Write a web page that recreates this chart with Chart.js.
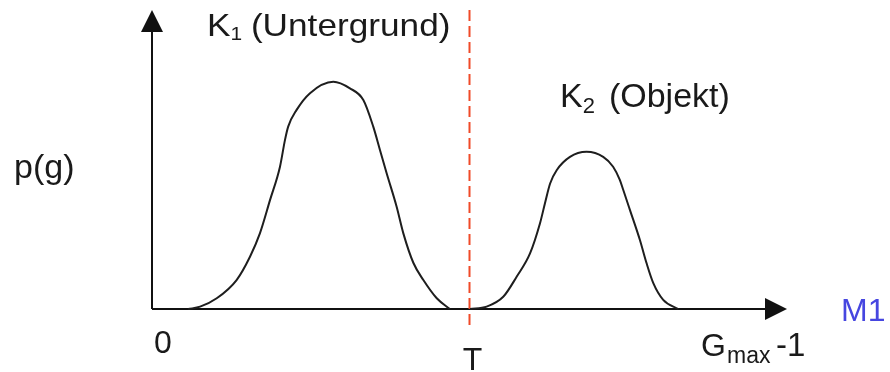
<!DOCTYPE html>
<html lang="de">
<head>
<meta charset="utf-8">
<title>Histogramm mit Schwellwert</title>
<script src="https://cdn.jsdelivr.net/npm/chart.js@4/dist/chart.umd.min.js"></script>
<style>
  html, body { margin: 0; padding: 0; background: #fff; }
  canvas { display: block; }
</style>
</head>
<body>
<canvas id="histChart" width="890" height="372"></canvas>
<script>
// --- Daten ---
// Grauwerte (0 .. Gmax-1) und Häufigkeiten p(g) der beiden Klassen
const grauK1 = [14.6, 19.4, 26.1, 34.1, 39.5, 43.5, 47.6, 51.6, 53.6, 54.9, 58.3, 63.7,
  73.1, 79.8, 85.2, 89.2, 91.9, 94.6, 98.6, 101.3, 105.4, 109.4, 114.8, 120.1];
const pK1 = [0, 0.8, 3.6, 9.7, 17.5, 25.3, 36.5, 47.6, 56.5, 61.0, 66.6, 72.2,
  76.0, 73.8, 69.9, 61.0, 53.2, 45.4, 34.3, 25.4, 15.4, 9.7, 3.6, 0];

const grauK2 = [128.2, 134.9, 141.6, 147.0, 152.4, 156.4, 158.4, 160.5, 163.2, 168.5, 175.2,
  181.9, 185.9, 188.6, 190.0, 192.7, 196.7, 199.4, 202.1, 206.1, 212.2];
const pK2 = [0, 0.8, 4.1, 10.8, 18.6, 28.6, 35.3, 42.0, 46.5, 50.9, 52.6,
  50.9, 47.6, 43.2, 39.8, 33.1, 23.1, 15.3, 8.7, 3.1, 0];

// Schwellwert T und Achsenende
const schwelleT = 128;
const gMax = 256;
const pMax = 100;

// Beschriftungen
const achsenTexte = { null: '0', schwelle: 'T', ende: '-1', einheit: 'M1', y: 'p(g)' };

const FONT = '"Liberation Sans", Arial, sans-serif';

/**
 * Baut aus zwei Arrays eine Punktliste {x, y} für Chart.js.
 */
function punkte(xs, ys) {
  return xs.map((x, i) => ({ x: x, y: ys[i] }));
}

/**
 * Schreibt einen Text mit Hauptteil und tiefgestelltem Index,
 * horizontal um den Faktor breite gedehnt.
 */
function textMitIndex(ctx, haupt, index, rest, x, y, groesse, indexGroesse, indexVersatz, abstand, breite) {
  ctx.save();
  ctx.translate(x, y);
  ctx.scale(breite, 1);
  let px = 0;
  ctx.font = `${groesse}px ${FONT}`;
  ctx.fillText(haupt, px, 0);
  px += ctx.measureText(haupt).width;
  ctx.font = `${indexGroesse}px ${FONT}`;
  ctx.fillText(index, px, indexVersatz);
  px += ctx.measureText(index).width + abstand;
  ctx.font = `${groesse}px ${FONT}`;
  ctx.fillText(rest, px, 0);
  ctx.restore();
}

// Achsen mit Pfeilspitzen, unter den Kurven gezeichnet
const achsenPlugin = {
  id: 'achsen',
  beforeDatasetsDraw(chart) {
    const ctx = chart.ctx;
    const xs = chart.scales.x;
    const ys = chart.scales.y;
    const x0 = xs.getPixelForValue(0);
    const y0 = ys.getPixelForValue(0);
    const xEnde = xs.getPixelForValue(gMax);
    const yEnde = ys.getPixelForValue(pMax);

    ctx.save();
    ctx.strokeStyle = '#111';
    ctx.fillStyle = '#111';
    ctx.lineWidth = 2;

    ctx.beginPath();
    ctx.moveTo(x0, y0);
    ctx.lineTo(x0, yEnde + 18);
    ctx.moveTo(x0, y0);
    ctx.lineTo(xEnde - 18, y0);
    ctx.stroke();

    // Pfeil nach oben
    ctx.beginPath();
    ctx.moveTo(x0, yEnde);
    ctx.lineTo(x0 - 11, yEnde + 22);
    ctx.lineTo(x0 + 11, yEnde + 22);
    ctx.closePath();
    ctx.fill();

    // Pfeil nach rechts
    ctx.beginPath();
    ctx.moveTo(xEnde, y0);
    ctx.lineTo(xEnde - 22, y0 - 11);
    ctx.lineTo(xEnde - 22, y0 + 11);
    ctx.closePath();
    ctx.fill();
    ctx.restore();
  }
};

// Texte: Klassen, Achsenbeschriftungen
const textPlugin = {
  id: 'texte',
  afterDatasetsDraw(chart) {
    const ctx = chart.ctx;
    const xs = chart.scales.x;
    const ys = chart.scales.y;
    const y0 = ys.getPixelForValue(0);

    ctx.save();
    ctx.fillStyle = '#1a1a1a';
    ctx.textBaseline = 'alphabetic';
    ctx.textAlign = 'left';

    textMitIndex(ctx, 'K', '1', '(Untergrund)', 207, 36, 32, 19, 4, 8, 1.1);
    textMitIndex(ctx, 'K', '2', '(Objekt)', 560, 107, 34, 22, 6, 14, 1);

    ctx.font = `34px ${FONT}`;
    ctx.fillText(achsenTexte.y, 14, 178);

    ctx.font = `32px ${FONT}`;
    ctx.fillText(achsenTexte.null, xs.getPixelForValue(0) + 2, y0 + 44);
    ctx.textAlign = 'center';
    ctx.fillText(achsenTexte.schwelle, xs.getPixelForValue(schwelleT) + 3, y0 + 61);
    ctx.textAlign = 'left';

    // G_max -1
    ctx.font = `32px ${FONT}`;
    ctx.fillText('G', 701, y0 + 47);
    ctx.font = `23px ${FONT}`;
    ctx.fillText('max', 727, y0 + 54);
    ctx.font = `33px ${FONT}`;
    ctx.fillText(achsenTexte.ende, 776, y0 + 47);

    ctx.fillStyle = '#4646e0';
    ctx.font = `32px ${FONT}`;
    ctx.fillText(achsenTexte.einheit, 841, y0 + 12);
    ctx.restore();
  }
};

/**
 * Zeichnet das Histogramm mit beiden Klassen und dem Schwellwert.
 */
function zeichneHistogramm() {
  const canvas = document.getElementById('histChart');

  const kurve = {
    borderColor: '#1e1e1e',
    borderWidth: 2,
    pointRadius: 0,
    cubicInterpolationMode: 'monotone',
    fill: false
  };

  new Chart(canvas, {
    type: 'line',
    data: {
      datasets: [
        { ...kurve, label: 'K1 (Untergrund)', data: punkte(grauK1, pK1) },
        { ...kurve, label: 'K2 (Objekt)', data: punkte(grauK2, pK2) },
        {
          label: 'T',
          data: [{ x: schwelleT, y: pMax }, { x: schwelleT, y: -6.5 }],
          borderColor: '#f04a28',
          borderWidth: 2,
          borderDash: [11, 5],
          pointRadius: 0,
          fill: false
        }
      ]
    },
    options: {
      responsive: false,
      devicePixelRatio: 1,
      animation: false,
      layout: {
        padding: { left: 152, right: 103, top: 10, bottom: 42 }
      },
      scales: {
        x: { type: 'linear', min: 0, max: gMax, display: false },
        y: { type: 'linear', min: -7, max: pMax, display: false }
      },
      plugins: {
        legend: { display: false },
        tooltip: { enabled: false }
      }
    },
    plugins: [achsenPlugin, textPlugin]
  });
}

document.addEventListener('DOMContentLoaded', zeichneHistogramm);
</script>
</body>
</html>
